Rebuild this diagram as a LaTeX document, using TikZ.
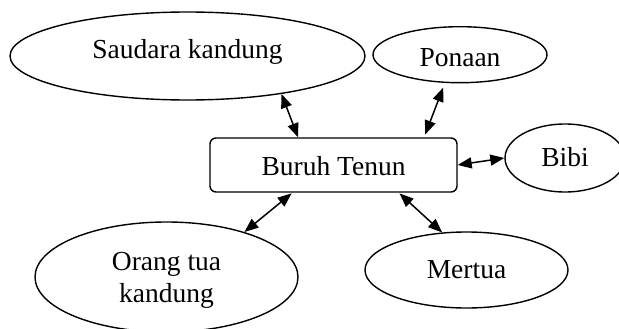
\documentclass[tikz,border=0pt]{standalone}
\usepackage{fontspec}
\setmainfont{Liberation Serif}
\usetikzlibrary{shapes.geometric,arrows.meta}

\begin{document}
\begin{tikzpicture}[x=1pt,y=-1pt,
  every node/.style={font=\fontsize{27.5}{32}\selectfont, inner sep=0pt},
  bubble/.style={draw, ellipse, line width=1.4pt, align=center},
  hub/.style={draw, rectangle, rounded corners=6pt, line width=1.4pt},
  link/.style={line width=1.5pt,
    {Triangle[length=14pt,width=11pt]}-{Triangle[length=14pt,width=11pt]}}]
  \useasboundingbox (0,0) rectangle (619,329);
  \clip (0,0) rectangle (619,329);

  % central box
  \node[hub, minimum width=247pt, minimum height=54pt,
        text height=20pt, text depth=0pt] (bt) at (333.5,165) {Buruh Tenun};

  % relatives around it
  \node[bubble, minimum width=355pt, minimum height=88pt,
        text height=5pt, text depth=0pt] (sk) at (187.5,56) {Saudara kandung};
  \node[bubble, minimum width=174pt, minimum height=56pt,
        text height=24pt, text depth=0pt] (po) at (460,54.7) {Ponaan};
  \node[bubble, minimum width=120pt, minimum height=68pt,
        text height=16pt, text depth=0pt] (bi) at (565,158) {Bibi};
  \node[bubble, minimum width=263pt, minimum height=110pt] (og) at (166.5,277)
        {\rule{0pt}{25pt}Orang tua\\kandung};
  \node[bubble, minimum width=203pt, minimum height=76pt,
        text height=16.6pt, text depth=0pt] (me) at (466.5,270) {Mertua};

  % two-way links
  \draw[link] (sk.-22.4) -- (bt.142.5);
  \draw[link, shorten <=5pt, shorten >=3pt] (po.-118.6) -- (bt.17.7);
  \draw[link] (bt.east) -- (bi.west);
  \draw[link, shorten <=1pt] (bt.-146.9) -- (og.30);
  \draw[link, shorten <=1pt] (bt.-23.4) -- (me.123.6);
\end{tikzpicture}
\end{document}
